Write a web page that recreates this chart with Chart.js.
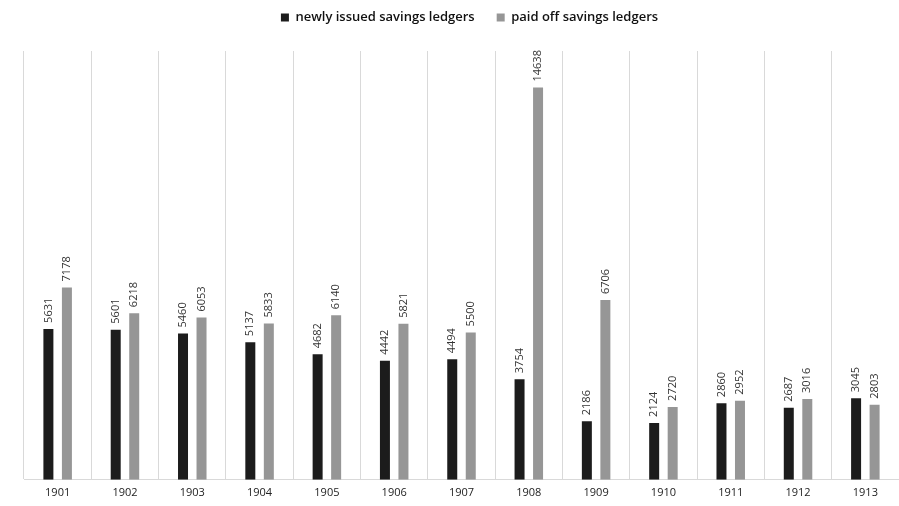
<!DOCTYPE html>
<html>
<head>
<meta charset="utf-8">
<script src="https://cdn.jsdelivr.net/npm/chart.js@4/dist/chart.umd.min.js"></script>
<style>
  html, body { margin: 0; padding: 0; background: #fff; }
  #wrap { width: 899px; height: 506px; }
</style>
</head>
<body>
<div id="wrap"><canvas id="ledgerChart"></canvas></div>
<script>
const years = ['1901', '1902', '1903', '1904', '1905', '1906', '1907', '1908', '1909', '1910', '1911', '1912', '1913'];
const issued = [5631, 5601, 5460, 5137, 4682, 4442, 4494, 3754, 2186, 2124, 2860, 2687, 3045];
const paidOff = [7178, 6218, 6053, 5833, 6140, 5821, 5500, 14638, 6706, 2720, 2952, 3016, 2803];

const FONT = "'Open Sans', 'DejaVu Sans', sans-serif";

// value labels, turned on their side above each bar
const barLabels = {
  id: 'barLabels',
  afterDatasetsDraw(chart) {
    const ctx = chart.ctx;
    ctx.save();
    ctx.fillStyle = '#333';
    ctx.font = '11px ' + FONT;
    ctx.textAlign = 'left';
    ctx.textBaseline = 'middle';
    chart.data.datasets.forEach((ds, i) => {
      chart.getDatasetMeta(i).data.forEach((bar, j) => {
        ctx.save();
        ctx.translate(bar.x, bar.y - 6);
        ctx.rotate(-Math.PI / 2);
        ctx.fillText(ds.data[j], 0, 0);
        ctx.restore();
      });
    });
    ctx.restore();
  }
};

// legend sits high up, with a wider gap left below it,
// and is centred on the whole canvas rather than the padded area
const legendGap = {
  id: 'legendGap',
  afterInit(chart) {
    const fit = chart.legend.fit;
    chart.legend.fit = function () {
      fit.call(this);
      this.height += 17;
    };
  },
  afterLayout(chart) {
    chart.legend.left += 16;
  }
};

new Chart(document.getElementById('ledgerChart'), {
  type: 'bar',
  data: {
    labels: years,
    datasets: [
      { label: 'newly issued savings ledgers', data: issued, backgroundColor: '#1c1c1c' },
      { label: 'paid off savings ledgers', data: paidOff, backgroundColor: '#969696' }
    ]
  },
  options: {
    responsive: true,
    maintainAspectRatio: false,
    animation: false,
    categoryPercentage: 0.55,
    barPercentage: 0.54,
    layout: { padding: { left: 24, right: 0, top: -11, bottom: 1 } },
    plugins: {
      legend: {
        position: 'top',
        labels: {
          boxWidth: 8,
          boxHeight: 8,
          padding: 22,
          color: '#111',
          font: { family: FONT, size: 13, weight: '600' }
        }
      },
      tooltip: { enabled: false }
    },
    scales: {
      x: {
        grid: { display: true, color: '#d9d9d9', drawTicks: false, offset: true },
        border: { display: true, color: '#d9d9d9' },
        ticks: { color: '#222', padding: 6, font: { family: FONT, size: 11 } }
      },
      y: {
        display: false,
        min: 0,
        max: 16000
      }
    }
  },
  plugins: [barLabels, legendGap]
});
</script>
</body>
</html>
